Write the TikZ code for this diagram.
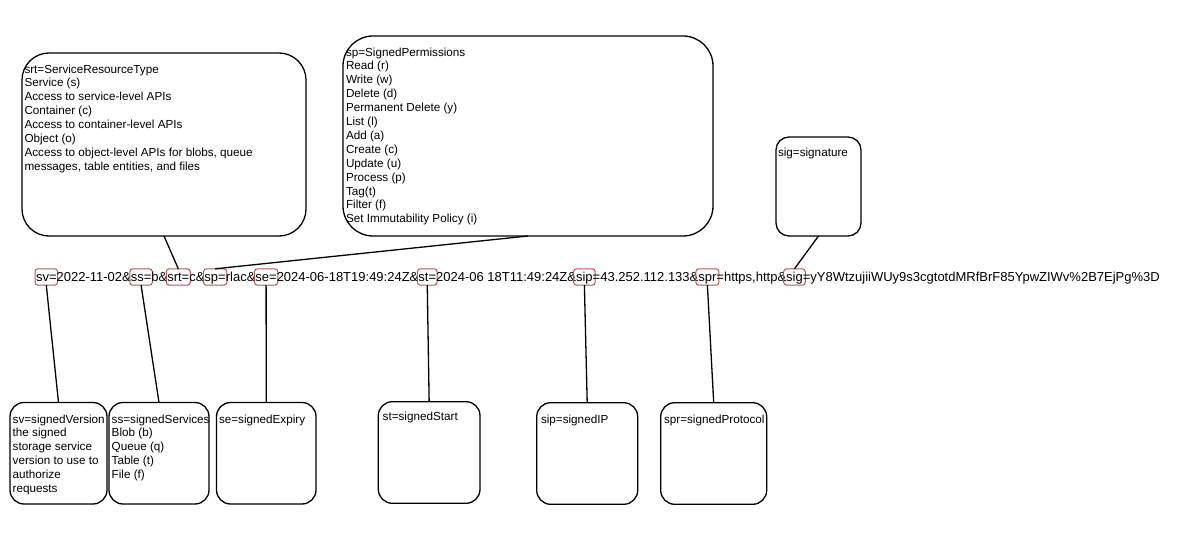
\documentclass[tikz,border=0pt]{standalone}
\usepackage{fontspec}
\setmainfont{Liberation Sans}
\definecolor{keyred}{HTML}{B85450}
\tikzset{
  base font/.style={font=\fontsize{11.7}{13.9}\selectfont},
  url font/.style={font=\fontsize{13}{14}\selectfont},
  roundbox/.style={draw=black, line width=1.3pt, inner sep=0pt, outer sep=0pt},
  boxtext/.style={base font, inner sep=0pt, outer sep=0pt, align=left, anchor=north west},
  urltxt/.style={url font, inner sep=0pt, outer sep=0pt, text height=10pt, text depth=2pt, anchor=base west},
  urlkey/.style={urltxt, inner xsep=1pt, inner ysep=2.2pt, draw=keyred, line width=1pt, rounded corners=3pt},
  widekey/.style={urlkey, inner xsep=2.5pt},
  conn/.style={draw=black, line width=1.3pt}
}
\begin{document}
\begin{tikzpicture}[x=1pt,y=-1pt]
\useasboundingbox (0,0) rectangle (1185,537);

% top boxes
\node[roundbox, rounded corners=27pt, minimum width=284pt, minimum height=183pt] (srtbox) at (164,144.5) {};
\node[boxtext] (srttext) at ([shift={(2.5,10.3)}]srtbox.north west) {\strut srt=ServiceResourceType\\Service (s)\\Access to service-level APIs\\Container (c)\\Access to container-level APIs\\Object (o)\\Access to object-level APIs for blobs, queue\\messages, table entities, and files};

\node[roundbox, rounded corners=30pt, minimum width=370pt, minimum height=200pt] (spbox) at (528,136) {};
\node[boxtext] (sptext) at ([shift={(3,10.3)}]spbox.north west) {\strut sp=SignedPermissions\\Read (r)\\Write (w)\\Delete (d)\\Permanent Delete (y)\\List (l)\\Add (a)\\Create (c)\\Update (u)\\Process (p)\\Tag(t)\\Filter (f)\\Set Immutability Policy (i)};

\node[roundbox, rounded corners=13pt, minimum width=85pt, minimum height=99pt] (sigbox) at (818.5,186.5) {};
\node[boxtext] (sigtext) at ([shift={(2,10)}]sigbox.north west) {\strut sig=signature};

% URL line
\node[urlkey] (ksv) at (35,281) {sv=};
\node[urltxt] (u1) at ([xshift=-1pt]ksv.base east) {2022-11-02\&};
\node[urlkey] (kss) at ([xshift=-1pt]u1.base east) {ss=};
\node[urltxt] (u2) at ([xshift=-1pt]kss.base east) {b\&};
\node[urlkey] (ksrt) at ([xshift=-1pt]u2.base east) {srt=};
\node[urltxt] (u3) at ([xshift=-1pt]ksrt.base east) {c\&};
\node[urlkey] (ksp) at ([xshift=-1pt]u3.base east) {sp=};
\node[urltxt] (u4) at ([xshift=-1pt]ksp.base east) {rlac\&};
\node[urlkey] (kse) at ([xshift=-1pt]u4.base east) {se=};
\node[urltxt] (u5) at ([xshift=-1pt]kse.base east) {2024-06-18T19:49:24Z\&};
\node[urlkey] (kst) at ([xshift=-1pt]u5.base east) {st=};
\node[urltxt] (u6) at ([xshift=-1pt]kst.base east) {2024-06 18T11:49:24Z\&};
\node[widekey] (ksip) at ([xshift=-2.5pt]u6.base east) {sip};
\node[urltxt] (u7) at ([xshift=-2.5pt]ksip.base east) {=43.252.112.133\&};
\node[widekey] (kspr) at ([xshift=-2.5pt]u7.base east) {spr};
\node[urltxt] (u8) at ([xshift=-2.5pt]kspr.base east) {=https,http\&};
\node[widekey] (ksig) at ([xshift=-2.5pt]u8.base east) {sig};
\node[urltxt] (u9) at ([xshift=-2.5pt]ksig.base east) {=yY8WtzujiiWUy9s3cgtotdMRfBrF85YpwZIWv\%2B7EjPg\%3D};

% bottom boxes
\node[roundbox, rounded corners=14pt, minimum width=97pt, minimum height=101.5pt] (svbox) at (58.5,453.25) {};
\node[boxtext] (svtext) at ([shift={(2.7,10.8)}]svbox.north west) {\strut sv=signedVersion\\the signed\\storage service\\version to use to\\authorize\\requests};

\node[roundbox, rounded corners=14pt, minimum width=100pt, minimum height=101.5pt] (ssbox) at (159,453.25) {};
\node[boxtext] (sstext) at ([shift={(2.7,10.8)}]ssbox.north west) {\strut ss=signedServices\\Blob (b)\\Queue (q)\\Table (t)\\File (f)};

\node[roundbox, rounded corners=14pt, minimum width=99.5pt, minimum height=101.5pt] (sebox) at (266.25,453.25) {};
\node[boxtext] (setext) at ([shift={(2.5,10.8)}]sebox.north west) {\strut se=signedExpiry};

\node[roundbox, rounded corners=14pt, minimum width=101.7pt, minimum height=101.6pt] (stbox) at (429.15,452.5) {};
\node[boxtext] (sttext) at ([shift={(4.4,8.6)}]stbox.north west) {\strut st=signedStart};

\node[roundbox, rounded corners=14pt, minimum width=101pt, minimum height=101.6pt] (sipbox) at (587.2,453.5) {};
\node[boxtext] (siptext) at ([shift={(4.3,10.8)}]sipbox.north west) {\strut sip=signedIP};

\node[roundbox, rounded corners=14pt, minimum width=106pt, minimum height=101.6pt] (sprbox) at (713.7,453.5) {};
\node[boxtext] (sprtext) at ([shift={(3.3,10.8)}]sprbox.north west) {\strut spr=signedProtocol};

% connectors
\draw[conn] (srtbox.south) -- (ksrt.north);
\draw[conn] (spbox.south) -- (ksp.north);
\draw[conn] (sigbox.south) -- (ksig.north);
\draw[conn] (ksv.south) -- (svbox.north);
\draw[conn] (kss.south) -- (ssbox.north);
\draw[conn] (kse.south) -- (sebox.north);
\draw[conn] (kst.south) -- (stbox.north);
\draw[conn] (ksip.south) -- (sipbox.north);
\draw[conn] (kspr.south) -- (sprbox.north);
\end{tikzpicture}
\end{document}
